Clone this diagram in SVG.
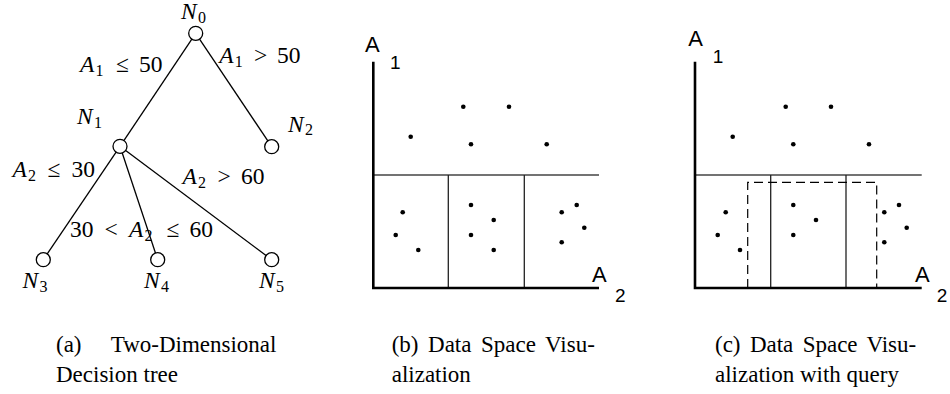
<svg xmlns="http://www.w3.org/2000/svg" width="950" height="394" viewBox="0 0 950 394">
<style>
.edge{stroke:#000;stroke-width:1.3;fill:none}
.node{fill:#fff;stroke:#000;stroke-width:1.3}
.m{font-family:"Liberation Serif","DejaVu Serif",serif;font-size:23.5px;fill:#000}
.i{font-style:italic}
.s{font-size:16px}
.ax{stroke:#000;stroke-width:2.6;fill:none}
.dv{stroke:#222;stroke-width:1.3;fill:none}
.dh{stroke:#444;stroke-width:1.5;fill:none}
.dash{stroke:#000;stroke-width:1.2;fill:none;stroke-dasharray:9,5}
.lab{font-family:"Liberation Sans",Arial,sans-serif;fill:#000}
.cap{font-family:"Liberation Serif","Times New Roman",serif;font-size:23px;fill:#000}
.dot{fill:#000}
</style>
<defs>
<circle id="d" r="2.3" class="dot"/>
</defs>
<g id="connectors">
<line class="edge" x1="195.7" y1="33.3" x2="120" y2="146.3"/>
<line class="edge" x1="195.7" y1="33.3" x2="271.7" y2="146.7"/>
<line class="edge" x1="120" y1="146.3" x2="43.3" y2="259.7"/>
<line class="edge" x1="120" y1="146.3" x2="157.7" y2="259.7"/>
<line class="edge" x1="120" y1="146.3" x2="271.7" y2="259.7"/>
</g>
<g id="edge-labels">
<text class="m" y="71.7"><tspan class="i" x="80">A</tspan><tspan class="s" x="95.5" dy="4">1</tspan><tspan x="116" dy="-4">≤</tspan><tspan x="139">50</tspan></text>
<text class="m" y="63.3"><tspan class="i" x="219.3">A</tspan><tspan class="s" x="234.8" dy="4">1</tspan><tspan x="254" dy="-4">&gt;</tspan><tspan x="277">50</tspan></text>
<text class="m" y="176.7"><tspan class="i" x="12.5">A</tspan><tspan class="s" x="28" dy="4">2</tspan><tspan x="47.5" dy="-4">≤</tspan><tspan x="71.5">30</tspan></text>
<text class="m" y="184.3"><tspan class="i" x="182.5">A</tspan><tspan class="s" x="198" dy="4">2</tspan><tspan x="217.5" dy="-4">&gt;</tspan><tspan x="241">60</tspan></text>
<text class="m" y="237.3"><tspan x="70">30</tspan><tspan x="104.5">&lt;</tspan><tspan class="i" x="129">A</tspan><tspan class="s" x="144.5" dy="4">2</tspan><tspan x="166.5" dy="-4">≤</tspan><tspan x="189.5">60</tspan></text>
</g>
<g id="N0"><circle class="node" cx="195.7" cy="33.3" r="7"/><text class="m" y="19.3"><tspan class="i" x="181">N</tspan><tspan class="s" x="198" dy="3.5">0</tspan></text></g>
<g id="N1"><circle class="node" cx="120" cy="146.3" r="7"/><text class="m" y="124"><tspan class="i" x="77">N</tspan><tspan class="s" x="94" dy="3.5">1</tspan></text></g>
<g id="N2"><circle class="node" cx="271.7" cy="146.7" r="7"/><text class="m" y="131.7"><tspan class="i" x="288">N</tspan><tspan class="s" x="305" dy="3.5">2</tspan></text></g>
<g id="N3"><circle class="node" cx="43.3" cy="259.7" r="7"/><text class="m" y="288"><tspan class="i" x="22.5">N</tspan><tspan class="s" x="39.5" dy="3.5">3</tspan></text></g>
<g id="N4"><circle class="node" cx="157.7" cy="259.7" r="7"/><text class="m" y="288"><tspan class="i" x="144">N</tspan><tspan class="s" x="161" dy="3.5">4</tspan></text></g>
<g id="N5"><circle class="node" cx="271.7" cy="259.7" r="7"/><text class="m" y="288"><tspan class="i" x="259">N</tspan><tspan class="s" x="276" dy="3.5">5</tspan></text></g>
<g id="chart-b">
<path class="dh" d="M373.3,175 H599"/>
<path class="dv" d="M448.3,175 V288 M524.3,175 V288"/>
<path class="ax" d="M373.3,61.7 V288 H599"/>
<text class="lab" x="365" y="51.7" font-size="22">A</text>
<text class="lab" x="390" y="69" font-size="19">1</text>
<text class="lab" x="592" y="281.7" font-size="22">A</text>
<text class="lab" x="615" y="301.7" font-size="19">2</text>
<use href="#d" x="463.3" y="106.7"/><use href="#d" x="509" y="106.7"/><use href="#d" x="410.7" y="136.7"/><use href="#d" x="471" y="144.3"/><use href="#d" x="546.7" y="144.3"/>
<use href="#d" x="402.7" y="212.3"/><use href="#d" x="395.7" y="235"/><use href="#d" x="418.3" y="250"/>
<use href="#d" x="471" y="205"/><use href="#d" x="493.7" y="220"/><use href="#d" x="471" y="235"/><use href="#d" x="493.7" y="250"/>
<use href="#d" x="576.7" y="205"/><use href="#d" x="561.7" y="212.3"/><use href="#d" x="584.3" y="227.7"/><use href="#d" x="561.7" y="242.3"/>
</g>
<g id="chart-c">
<path class="dh" d="M695,175 H921.7"/>
<path class="dv" d="M770.7,175 V288 M846,175 V288"/>
<path class="dash" d="M747.7,288 V182.3 H876.7 V288"/>
<path class="ax" d="M695,61.7 V288 H921.7"/>
<text class="lab" x="688.3" y="46" font-size="22">A</text>
<text class="lab" x="712.7" y="62.7" font-size="19">1</text>
<text class="lab" x="915" y="281.7" font-size="22">A</text>
<text class="lab" x="936.7" y="301.7" font-size="19">2</text>
<use href="#d" x="785.7" y="106.7"/><use href="#d" x="831" y="106.7"/><use href="#d" x="732.7" y="136.7"/><use href="#d" x="793.3" y="144.3"/><use href="#d" x="869" y="144.3"/>
<use href="#d" x="725.7" y="212.3"/><use href="#d" x="717.7" y="235"/><use href="#d" x="740" y="250"/>
<use href="#d" x="793.3" y="205"/><use href="#d" x="816" y="220"/><use href="#d" x="793.3" y="235"/>
<use href="#d" x="884.3" y="212.3"/><use href="#d" x="899" y="205"/><use href="#d" x="906.7" y="227.7"/><use href="#d" x="884.3" y="242.3"/>
</g>
<g id="captions">
<text class="cap" y="351.5"><tspan x="56">(a)</tspan><tspan x="110.7">Two-Dimensional</tspan></text>
<text class="cap" x="56" y="381.5">Decision tree</text>
<text class="cap" x="391.7" y="351.5" word-spacing="3.8">(b) Data Space Visu-</text>
<text class="cap" x="391.7" y="381.5">alization</text>
<text class="cap" x="715" y="351.5" word-spacing="3.6">(c) Data Space Visu-</text>
<text class="cap" x="715" y="381.5">alization with query</text>
</g>
</svg>
